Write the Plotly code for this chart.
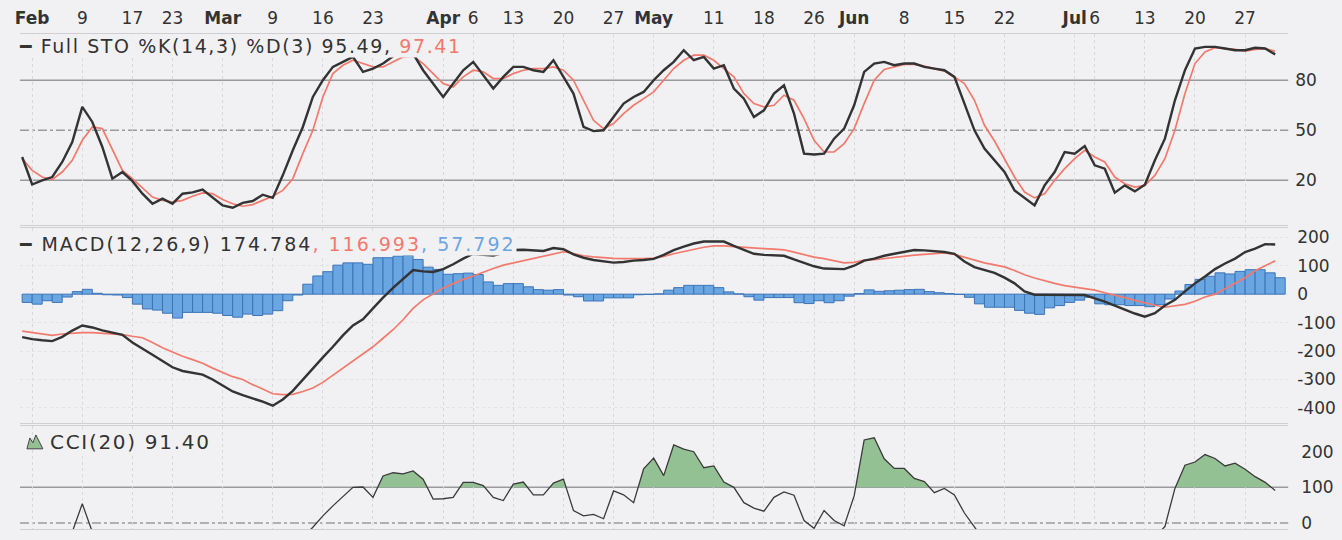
import plotly.graph_objects as go

# ---------------- data (trading-day index: 0 = 2 Feb 2009) ----------------
day = list(range(-1, 125))

tick_days = [0, 5, 10, 14, 19, 24, 29, 34, 41, 44, 48, 53, 58, 62, 68, 73, 78, 82,
             87, 92, 97, 104, 106, 111, 116, 121]
tick_text = ["<b>Feb</b>", "9", "17", "23", "<b>Mar</b>", "9", "16", "23", "<b>Apr</b>",
             "6", "13", "20", "27", "<b>May</b>", "11", "18", "26", "<b>Jun</b>", "8",
             "15", "22", "<b>Jul</b>", "6", "13", "20", "27"]

sto_k = [34, 17.5, 20, 22, 31, 43, 64, 55, 40, 21, 25, 19.5, 12, 6, 9, 6, 12, 12.8, 14.5, 10,
         5, 3.6, 6.5, 7.6, 11.4, 9.5, 23, 38, 52, 70, 80, 88, 91, 94, 85, 87, 90, 94.4, 97, 96,
         86, 78, 70, 78, 86, 91, 83, 75, 82, 88, 88, 86, 85, 92, 82, 72, 52, 49.5, 50, 58,
         66, 70, 73, 80, 86, 91, 98, 92, 94, 87, 89, 75, 69, 58, 62, 72, 77, 60, 36, 35.5,
         36, 45, 51, 65, 85, 90, 91, 89, 90, 90, 88, 87, 86, 82, 66, 50, 39, 32, 25, 14,
         9.5, 5, 17, 25, 37, 36, 40.6, 29, 27, 12.6, 17, 13.4, 17.4, 32, 45, 68, 86, 99, 100, 100,
         99, 98, 98, 99.5, 99, 95.49]

sto_d = [33, 26, 22, 20.5, 25, 32, 44, 52, 51, 38, 26, 21, 15.5, 10, 8, 7, 8, 10.5, 12.5, 12,
         8.5, 6, 4.5, 5.5, 8, 10.5, 14, 21, 36, 50, 70, 84, 89, 92, 90, 88, 88, 91, 94, 94.5,
         90, 84, 78, 76, 82, 86, 85, 81, 81, 84, 86, 87, 87, 88, 86, 80, 68, 56, 51, 54,
         60, 65, 69, 73, 80, 87, 92, 95, 95, 92, 87, 82, 72, 66, 64, 65, 71, 68, 57, 44,
         37, 37, 42, 51, 66, 80, 86.5, 88, 89.5, 89.5, 88.5, 87, 85.5, 82, 78, 68, 53, 43.6, 33, 22,
         13, 9.5, 12, 20, 27, 33, 38, 34, 31, 22, 18, 16, 17, 23, 33, 50, 72, 90, 97, 99.5,
         99, 98.5, 97.5, 98.5, 99, 97.41]

macd = [-151, -158, -162, -165, -150, -128, -110, -117, -127, -135, -143, -170, -190, -213, -235,
        -257, -270, -276, -283, -300, -322, -342, -355, -366, -378, -392, -370, -340, -300, -262,
        -222, -185, -145, -110, -88, -50, -12, 22, 55, 85, 80, 78, 88, 105, 125, 142, 138, 136,
        144, 155, 156, 153, 152, 162, 158, 140, 128, 120, 115, 111, 113, 118, 120, 124, 138, 155,
        167, 178, 185, 186, 185, 170, 155, 142, 138, 137, 135, 122, 110, 98, 90, 89, 88, 100,
        118, 125, 135, 142, 148, 155, 154, 151, 148, 142, 115, 95, 85, 75, 58, 38, 10, -2, -2,
        -2, -2, -3, -3, -15, -26, -40, -55, -68, -79, -67, -40, -20, 10, 38, 62, 88, 108, 125,
        148, 160, 176, 174.784]

signal = [-130, -135, -140, -145, -140, -137, -135, -135, -137, -139, -142, -148, -153, -170, -188,
          -203, -218, -230, -243, -260, -275, -290, -300, -318, -333, -350, -353, -352, -342, -330,
          -310, -285, -262, -238, -213, -185, -155, -125, -90, -50, -20, 0, 22, 37, 52, 64, 78, 90,
          102, 110, 118, 126, 133, 142, 149, 143, 135, 131, 128, 126, 125, 124, 125, 127, 133, 142,
          150, 158, 165, 170, 170, 167, 164, 162, 160, 158, 156, 148, 140, 130, 125, 118, 110, 112,
          120, 121, 125, 130, 135, 137, 140, 143, 145, 140, 130, 119, 110, 103, 96, 83, 68, 57, 47,
          38, 30, 24, 18, 14, 5, -3, -12, -22, -31, -39, -46, -42, -36, -25, -10, 0, 18, 38,
          58, 82, 100, 116.993]

histogram = [-29, -35, -23, -29, -10, 9, 17, 3, -2, -3, -12, -35, -52, -56, -67, -84, -64, -64, -64,
             -67, -75, -81, -70, -75, -70, -58, -23, -3, 35, 64, 79, 102, 110, 110, 105, 128, 128,
             134, 136, 122, 95, 87, 70, 72, 74, 69, 43, 31, 37, 37, 26, 16, 14, 16, -3, -9, -24,
             -24, -13, -13, -13, -2, -1, 1, 14, 23, 31, 31, 31, 23, 8, 1, -9, -21, -12, -12, -12,
             -30, -33, -23, -30, -23, -7, 2, 15, 10, 12, 14, 16, 17, 9, 5, 2, -1, -11, -34, -46,
             -46, -46, -57, -67, -71, -48, -40, -29, -21, -11, -34, -37, -37, -40, -40, -44, -37,
             -17, 11, 34, 52, 63, 75, 71, 80, 86, 86, 75, 57.792]

cci = [-120, -130, -110, -90, -70, -25, 54, -25, -90, -110, -100, -120, -150, -160, -170, -150,
       -130, -140, -120, -130, -150, -160, -130, -110, -90, -100, -80, -60, -40, -12, 20, 48, 75,
       100, 101, 72, 132, 141, 138, 146, 123, 67, 68, 72, 114, 114, 105, 72, 63, 109, 115, 79, 79,
       112, 123, 35, 20, 24, 12, 90, 79, 57, 152, 182, 133, 219, 207, 200, 155, 160, 115, 100, 57,
       42, 33, 72, 87, 78, 7, -15, 35, 7, -8, 76, 233, 239, 180, 153, 153, 125, 116, 85, 97, 79,
       28, -14, -50, -80, -110, -130, -150, -140, -110, -90, -70, -60, -70, -80, -90, -100, -110,
       -90, -70, -40, -10, 97, 162, 171, 192, 181, 160, 168, 151, 130, 114, 91.4]

sto_ticks = [20, 50, 80]
macd_ticks = [-400, -300, -200, -100, 0, 100, 200]
macd_tick_text = ["-400", "-300", "-200", "-100", "0", "100", "200"]
cci_ticks = [0, 100, 200]

# ---------------- styling ----------------
W, H = 1342, 540
BG = "#f1f1f3"
INK = "#333333"
RED = "#f2796b"
BLUE = "#6aa6e2"
FONT = "DejaVu Sans"


def px(xp):
    return xp / W


def py(yp):
    return 1 - yp / H


# CCI fill geometry (area between the line and the 100 level, where the line is above it)
def fill_above(xs, ys, level):
    fx, fy = [], []
    poly = None
    for k in range(len(xs)):
        x1, y1 = xs[k], ys[k]
        up = y1 > level
        if k > 0:
            x0, y0 = xs[k - 1], ys[k - 1]
            was_up = y0 > level
            if up != was_up:
                xc = x0 + (level - y0) * (x1 - x0) / (y1 - y0)
                if up:
                    poly = [(xc, level)]
                else:
                    poly.append((xc, level))
                    fx += [p[0] for p in poly] + [None]
                    fy += [p[1] for p in poly] + [None]
                    poly = None
        if up:
            if poly is None:
                poly = [(x1, level)]
            poly.append((x1, y1))
    if poly is not None:
        poly.append((xs[-1], level))
        fx += [p[0] for p in poly]
        fy += [p[1] for p in poly]
    return fx, fy


fx, fy = fill_above(day, cci, 100)

fig = go.Figure()

# STO panel
fig.add_trace(go.Scatter(x=day, y=sto_d, mode="lines", line=dict(color=RED, width=1.7),
                         xaxis="x", yaxis="y", hoverinfo="skip"))
fig.add_trace(go.Scatter(x=day, y=sto_k, mode="lines", line=dict(color=INK, width=2.4),
                         xaxis="x", yaxis="y", hoverinfo="skip"))

# MACD panel
fig.add_trace(go.Bar(x=day, y=histogram, width=1, offset=0,
                     marker=dict(color=BLUE, line=dict(color="#3c74b8", width=1)),
                     xaxis="x2", yaxis="y2", hoverinfo="skip"))
fig.add_trace(go.Scatter(x=day, y=signal, mode="lines", line=dict(color=RED, width=1.7),
                         xaxis="x2", yaxis="y2", hoverinfo="skip"))
fig.add_trace(go.Scatter(x=day, y=macd, mode="lines", line=dict(color=INK, width=2.4),
                         xaxis="x2", yaxis="y2", hoverinfo="skip"))

# CCI panel
fig.add_trace(go.Scatter(x=fx, y=fy, mode="lines", fill="toself", fillcolor="#93c193",
                         line=dict(width=0), xaxis="x3", yaxis="y3", hoverinfo="skip"))
fig.add_trace(go.Scatter(x=day, y=cci, mode="lines", line=dict(color="#3a3a3a", width=1.3),
                         xaxis="x3", yaxis="y3", hoverinfo="skip"))

xdom = [px(15), px(1288)]
xr = [-1.22, 125.3]
grid = "#d9d9dc"
border = "#cfcfd3"

common_x = dict(range=xr, domain=xdom, tickvals=tick_days, showgrid=True, gridcolor=grid,
                griddash="dot", gridwidth=1, zeroline=False, showline=True, mirror=True,
                linecolor=border, ticks="")
ytick_font = dict(size=17, family=FONT, color=INK)

fig.update_layout(
    width=W, height=H, margin=dict(l=0, r=0, t=0, b=0),
    paper_bgcolor=BG, plot_bgcolor=BG, showlegend=False,
    font=dict(family=FONT, color=INK),
    xaxis=dict(common_x, anchor="y", side="top", ticktext=tick_text, tickangle=0,
               tickfont=dict(size=17, family=FONT, color=INK), ticklabelstandoff=2),
    xaxis2=dict(common_x, anchor="y2", matches="x", showticklabels=False),
    xaxis3=dict(common_x, anchor="y3", matches="x", showticklabels=False),
    yaxis=dict(domain=[py(226), py(33)], range=[-6.7, 107.9], anchor="x", side="right",
               tickvals=sto_ticks, showgrid=False, zeroline=False, ticks="",
               tickfont=ytick_font, ticklabelstandoff=6, showline=False),
    yaxis2=dict(domain=[py(426), py(229)], range=[-453, 233], anchor="x2", side="right",
                tickvals=macd_ticks, ticktext=macd_tick_text, showgrid=True,
                gridcolor="#e3e3e6", griddash="dot", zeroline=False, ticks="",
                tickfont=ytick_font, ticklabelstandoff=8, showline=False),
    yaxis3=dict(domain=[py(533), py(429)], range=[-17, 272], anchor="x3", side="right",
                tickvals=cci_ticks, showgrid=False, zeroline=False, ticks="",
                tickfont=ytick_font, ticklabelstandoff=12, showline=False),
)

# reference levels
shapes = []
for lvl, dash in [(80, "solid"), (20, "solid"), (50, "dashdot")]:
    shapes.append(dict(type="line", xref="x domain", yref="y", x0=0, x1=1, y0=lvl, y1=lvl,
                       line=dict(color="#9a9a9e", width=1.5, dash=dash), layer="below"))
for lvl, dash in [(100, "solid"), (0, "dashdot")]:
    shapes.append(dict(type="line", xref="x3 domain", yref="y3", x0=0, x1=1, y0=lvl, y1=lvl,
                       line=dict(color="#9a9a9e", width=1.5, dash=dash), layer="below"))
# CCI legend icon (small mountain)
pts = [(22, 452), (25, 441), (28, 446), (31, 438), (35, 446), (38, 452)]
path = "M " + " L ".join(f"{px(a):.5f},{py(b):.5f}" for a, b in pts) + " Z"
shapes.append(dict(type="path", xref="paper", yref="paper", path=path,
                   fillcolor="#93c193", line=dict(color="#444", width=1)))
fig.update_layout(shapes=shapes)

ann_font = dict(family=FONT, size=19, color=INK)
SP = "letter-spacing:1.6px"
SP2 = "letter-spacing:2.0px"
SP3 = "letter-spacing:1.7px"
fig.add_annotation(x=px(13), y=py(45), xref="paper", yref="paper", xanchor="left",
                   yanchor="middle", showarrow=False, bgcolor=BG, borderpad=0, font=ann_font,
                   text=f"<span style='{SP}'>━ Full STO %K(14,3) %D(3) {sto_k[-1]:.2f}, </span>"
                        f"<span style='color:{RED};{SP}'>{sto_d[-1]:.2f}</span>")
fig.add_annotation(x=px(13), y=py(245), xref="paper", yref="paper", xanchor="left",
                   yanchor="middle", showarrow=False, bgcolor=BG, borderpad=0, font=ann_font,
                   text=f"<span style='{SP2}'>━ MACD(12,26,9) {macd[-1]:.3f}</span>"
                        f"<span style='color:{RED};{SP2}'>, {signal[-1]:.3f}</span>"
                        f"<span style='color:{BLUE};{SP2}'>, {histogram[-1]:.3f}</span>")
fig.add_annotation(x=px(44), y=py(445), xref="paper", yref="paper", xanchor="left",
                   yanchor="middle", showarrow=False, bgcolor=BG, borderpad=0,
                   font=dict(family=FONT, size=20, color=INK),
                   text=f"<span style='{SP3}'>CCI(20) {cci[-1]:.2f}</span>")

fig.write_html("out.html", config={"displayModeBar": False},
               post_script="document.body.style.margin='0';"
                           "document.documentElement.style.overflow='hidden';")
